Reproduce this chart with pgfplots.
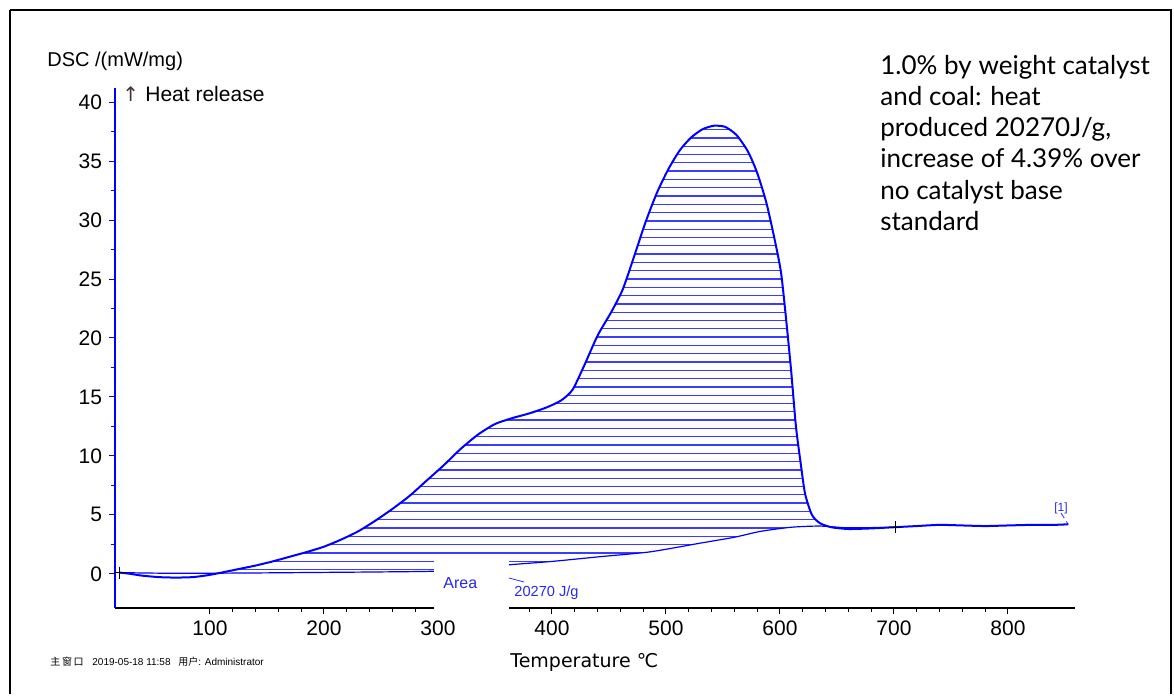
\documentclass[border=0pt]{standalone}
\usepackage{fontspec}
\setmainfont{Liberation Sans}
\newfontfamily\dejavu{DejaVu Sans}
\newfontfamily\lato{Lato}
\newfontfamily\cjk{Noto Sans CJK SC}
\usepackage{pgfplots}
\pgfplotsset{compat=1.18}
\usepgfplotslibrary{fillbetween}
\usetikzlibrary{patterns}
\pgfdeclarepatternformonly{dschatch}{\pgfpoint{-1pt}{-1pt}}{\pgfpoint{101pt}{5.15pt}}{\pgfpoint{100pt}{4.15pt}}{%
  \pgfsetlinewidth{0.65pt}%
  \pgfpathmoveto{\pgfpoint{-1pt}{0.6pt}}%
  \pgfpathlineto{\pgfpoint{101pt}{0.6pt}}%
  \pgfusepath{stroke}}
\definecolor{dscblue}{RGB}{0,0,255}
\definecolor{hatchblue}{RGB}{60,60,255}
\definecolor{lblblue}{RGB}{40,40,240}
\begin{document}
\begin{tikzpicture}
\begin{scope}[x=0.5pt,y=-0.5pt]
\path[use as bounding box] (0,0) rectangle (1174,694);
\end{scope}
\begin{axis}[
  at={(57.5pt,-304pt)}, anchor=south west,
  scale only axis, width=480pt, height=260pt,
  xmin=16.7, xmax=858.8, ymin=-2.9, ymax=41.2,
  axis x line*=bottom, axis y line*=left,
  x axis line style={black, line width=0.6pt, -},
  y axis line style={dscblue, line width=0.6pt, -},
  xtick={100,200,...,800}, ytick={0,5,...,40},
  minor x tick num=4, minor y tick num=1,
  tick align=outside,
  major tick length=3pt, minor tick length=2pt,
  x tick style={black, line width=0.5pt},
  y tick style={dscblue, line width=0.5pt},
  tick label style={font=\fontsize{10.5}{12}\selectfont},
  /pgf/number format/assume math mode=true,
  clip=false,
]
\addplot[draw=none, smooth, tension=0.4, name path=curve] coordinates {
(21,0.1)(30,0.0)(40,-0.15)(55,-0.28)(70,-0.32)(85,-0.28)(98,-0.12)(110,0.1)(125,0.4)(140,0.7)(155,1.05)(170,1.45)(185,1.85)(200,2.3)(215,2.9)(230,3.6)(245,4.5)(260,5.5)(275,6.6)(290,7.9)(305,9.2)(320,10.6)(335,11.8)(350,12.7)(365,13.2)(380,13.6)(395,14.1)(408,14.7)(418,15.6)(428,17.6)(440,20.2)(452,22.2)(462,24.1)(472,26.9)(482,29.8)(492,32.3)(502,34.3)(512,35.9)(522,37.0)(532,37.7)(542,38.0)(552,37.9)(562,37.2)(572,35.8)(580,34.0)(588,31.5)(595,28.5)(601,25.5)(606,21.0)(610,17.0)(614,12.5)(618,9.5)(622,6.8)(628,5.0)(635,4.3)(645,3.95)(660,3.8)(680,3.85)(700,3.95)};
\addplot[draw=none, smooth, tension=0.4, name path=base] coordinates {
(21,0.1)(60,0.05)(100,0.05)(150,0.08)(200,0.12)(250,0.16)(296,0.22)(330,0.45)(362,0.76)(400,1.05)(442,1.45)(486,1.86)(530,2.6)(560,3.1)(583,3.6)(610,3.95)(635,4.05)(660,3.9)(700,3.95)};
\addplot[draw=none, pattern=dschatch, pattern color=hatchblue]
  fill between[of=curve and base];
\addplot[dscblue, line width=0.6pt, smooth, tension=0.4] coordinates {
(21,0.1)(60,0.05)(100,0.05)(150,0.08)(200,0.12)(250,0.16)(296,0.22)(330,0.45)(362,0.76)(400,1.05)(442,1.45)(486,1.86)(530,2.6)(560,3.1)(583,3.6)(610,3.95)(635,4.05)(660,3.9)(700,3.95)};
\addplot[dscblue, line width=1pt, smooth, tension=0.4] coordinates {
(21,0.1)(30,0.0)(40,-0.15)(55,-0.28)(70,-0.32)(85,-0.28)(98,-0.12)(110,0.1)(125,0.4)(140,0.7)(155,1.05)(170,1.45)(185,1.85)(200,2.3)(215,2.9)(230,3.6)(245,4.5)(260,5.5)(275,6.6)(290,7.9)(305,9.2)(320,10.6)(335,11.8)(350,12.7)(365,13.2)(380,13.6)(395,14.1)(408,14.7)(418,15.6)(428,17.6)(440,20.2)(452,22.2)(462,24.1)(472,26.9)(482,29.8)(492,32.3)(502,34.3)(512,35.9)(522,37.0)(532,37.7)(542,38.0)(552,37.9)(562,37.2)(572,35.8)(580,34.0)(588,31.5)(595,28.5)(601,25.5)(606,21.0)(610,17.0)(614,12.5)(618,9.5)(622,6.8)(628,5.0)(635,4.3)(645,3.95)(660,3.8)(680,3.85)(700,3.95)(720,4.05)(740,4.15)(760,4.1)(780,4.05)(800,4.1)(820,4.15)(840,4.15)(853,4.2)};
\addplot[only marks, mark=+, mark size=3pt, black, line width=0.5pt] coordinates {(21,0.1)(701,3.95)};
\end{axis}
\begin{scope}[x=0.5pt,y=-0.5pt]
\fill[white] (434,559) rectangle (509,615);
\draw[line width=1.2pt] (10,694)--(10,10);
\draw[line width=0.8pt] (10,10)--(1171,10)--(1171,694);
\node[anchor=base west, inner sep=0pt, font=\fontsize{10}{12}\selectfont] at (47,67) {DSC /(mW/mg)};
\node[anchor=base west, inner sep=0pt, font=\dejavu\fontsize{10}{12}\selectfont, text={rgb,255:red,70;green,50;blue,50}] at (122,102) {↑};
\node[anchor=base west, inner sep=0pt, font=\fontsize{10.5}{12}\selectfont] at (145,102) {Heat release};
\node[anchor=base west, inner sep=0pt, font=\dejavu\fontsize{9.5}{12}\selectfont] at (510,667) {Temperature ℃};
\node[anchor=base west, inner sep=0pt, font=\fontsize{8}{10}\selectfont, text=lblblue] at (443,588) {Area};
\node[anchor=base west, inner sep=0pt, font=\fontsize{7.3}{9}\selectfont, text=lblblue] at (514,596) {20270 J/g};
\draw[lblblue, line width=0.4pt] (509,578)--(524,582);
\node[anchor=base, inner sep=0pt, font=\fontsize{6}{8}\selectfont, text=lblblue] at (1061,511) {[1]};
\draw[lblblue, line width=0.4pt, densely dashed] (1061,513)--(1068,524);
\begin{scope}[every node/.style={anchor=base west, inner sep=0pt, font=\lato\fontsize{13}{15}\selectfont}]
\node at (880,75) {1.0\% by weight catalyst};
\node at (880,106) {and coal: heat};
\node at (880,137) {produced 20270J/g,};
\node at (880,168) {increase of 4.39\% over};
\node at (880,199) {no catalyst base};
\node at (880,230) {standard};
\end{scope}
\node[anchor=base west, inner sep=0pt, font=\cjk\fontsize{5}{6}\selectfont] at (50,665) {主\,窗\,口};
\node[anchor=base west, inner sep=0pt, font=\fontsize{5}{6}\selectfont] at (92,665) {2019-05-18 11:58};
\node[anchor=base west, inner sep=0pt, font=\fontsize{5}{6}\selectfont] at (178,665) {{\cjk 用户}: Administrator};
\end{scope}
\end{tikzpicture}
\end{document}
